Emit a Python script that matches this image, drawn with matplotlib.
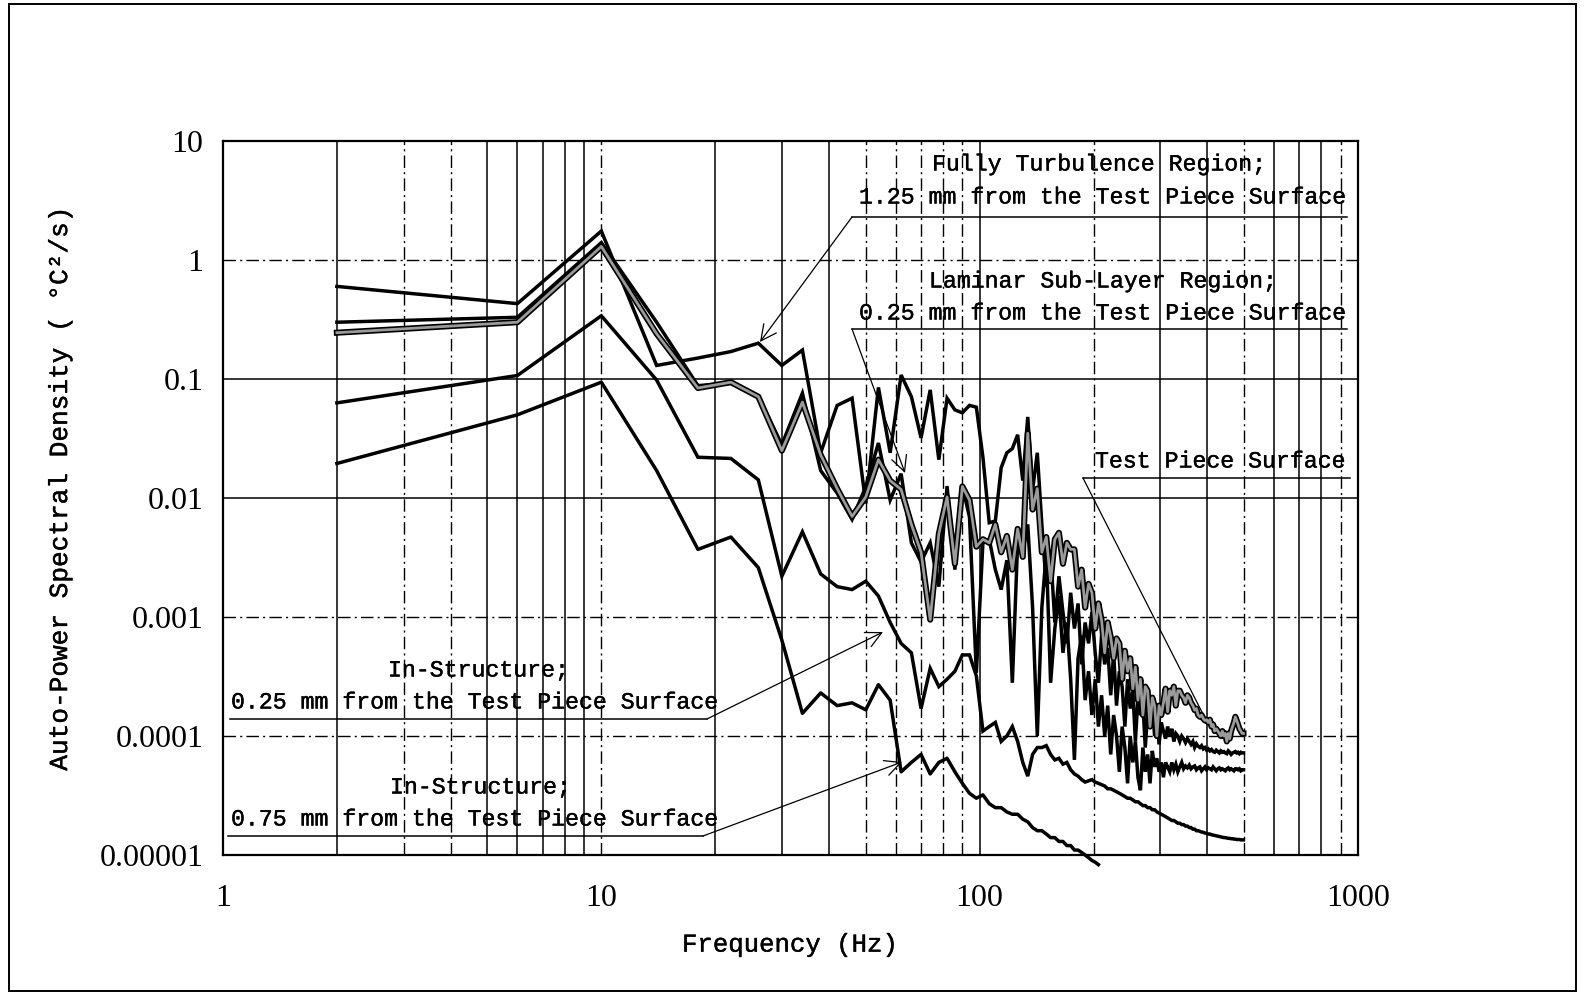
import numpy as np
import matplotlib
matplotlib.use('Agg')
import matplotlib.pyplot as plt
import matplotlib.patheffects as pe
from matplotlib.patches import Rectangle
from matplotlib.lines import Line2D

# ---------------- data (frequency bins every 4 Hz starting at 2 Hz) ----------------
fully_turbulence_125 = [
    0.60, 0.43, 1.75, 0.13, 0.15, 0.17, 0.20, 0.13, 0.175, 0.024,
    0.060, 0.069, 0.009, 0.085, 0.024, 0.108, 0.071, 0.032, 0.081, 0.021,
    0.069, 0.055, 0.052, 0.060, 0.058, 0.022, 0.0062, 0.0064, 0.018, 0.024,
    0.026, 0.034, 0.014, 0.048, 0.0116, 0.024, 0.006, 0.0018, 0.0035, 0.0009,
    0.0022, 0.0011, 0.0006, 0.0016, 0.0008, 0.0013, 0.0004, 0.0009, 0.0006, 0.0011,
    5.0e-4, 2.8e-4, 7.0e-4, 4.0e-4, 5.5e-4, 2.2e-4, 5.0e-4, 1.8e-4, 3.5e-4, 2.6e-4,
    1.2e-4, 3.0e-4, 1.7e-4, 2.4e-4, 9.0e-5, 2.1e-4, 1.5e-4, 1.9e-4, 8.0e-5, 1.6e-4,
    1.2e-4, 1.8e-4, 1.0e-4, 1.4e-4, 8.5e-5, 1.3e-4, 1.1e-4, 9.5e-5, 1.2e-4, 1.0e-4,
    1.15e-4, 9.0e-5, 1.05e-4, 1.0e-4, 9.0e-5, 1.0e-4, 9.5e-5, 8.8e-5, 9.5e-5, 9.0e-5,
    8.5e-5, 9.0e-5, 8.0e-5, 8.6e-5, 8.2e-5, 8.0e-5, 8.3e-5, 7.8e-5, 8.0e-5, 7.6e-5,
    7.8e-5, 7.5e-5, 7.7e-5, 7.4e-5, 7.3e-5, 7.6e-5, 7.4e-5, 7.2e-5, 7.5e-5, 7.3e-5,
    7.4e-5, 7.2e-5, 7.1e-5, 7.5e-5, 7.3e-5, 7.0e-5, 7.2e-5, 7.3e-5, 7.4e-5, 7.2e-5,
    7.3e-5, 7.1e-5, 7.3e-5, 7.2e-5, 7.2e-5]

laminar_025 = [
    0.30, 0.33, 1.40, 0.30, 0.088, 0.092, 0.072, 0.028, 0.076, 0.017,
    0.011, 0.0066, 0.0125, 0.029, 0.0096, 0.016, 0.0042, 0.0029, 0.0042, 0.0018,
    0.0126, 0.0025, 0.0126, 0.0069, 0.00034, 0.0042, 0.0045, 0.0025, 0.0017, 0.0030,
    0.00028, 0.0042, 0.0035, 0.0060, 0.0012, 0.0001, 0.0012, 0.0035, 0.00028, 0.0008,
    0.0015, 0.0005, 0.0009, 0.0003, 6.3e-5, 4.5e-4, 7.0e-4, 2.0e-4, 3.5e-4, 1.5e-4,
    3.0e-4, 1.2e-4, 2.2e-4, 1.0e-4, 1.8e-4, 7.0e-5, 1.5e-4, 1.0e-4, 5.0e-5, 1.2e-4,
    8.0e-5, 4.0e-5, 1.0e-4, 6.0e-5, 9.0e-5, 4.5e-5, 3.5e-5, 8.0e-5, 5.0e-5, 7.0e-5,
    4.0e-5, 7.5e-5, 5.5e-5, 6.5e-5, 5.0e-5, 6.0e-5, 4.5e-5, 6.0e-5, 5.5e-5, 5.0e-5,
    6.0e-5, 5.2e-5, 5.8e-5, 5.0e-5, 5.5e-5, 6.0e-5, 5.3e-5, 5.6e-5, 5.4e-5, 5.7e-5,
    5.3e-5, 5.5e-5, 5.6e-5, 5.2e-5, 5.4e-5, 5.5e-5, 5.1e-5, 5.3e-5, 5.5e-5, 5.2e-5,
    5.4e-5, 5.3e-5, 5.2e-5, 5.5e-5, 5.3e-5, 5.1e-5, 5.3e-5, 5.4e-5, 5.2e-5, 5.3e-5,
    5.2e-5, 5.1e-5, 5.3e-5, 5.4e-5, 5.2e-5, 5.3e-5, 5.2e-5, 5.1e-5, 5.3e-5, 5.3e-5,
    5.2e-5, 5.3e-5, 5.1e-5, 5.2e-5, 5.2e-5]

test_piece_surface = [
    0.245, 0.30, 1.30, 0.24, 0.084, 0.094, 0.071, 0.025, 0.064, 0.023,
    0.012, 0.007, 0.0102, 0.021, 0.014, 0.0118, 0.006, 0.0035, 0.00095, 0.005,
    0.0102, 0.0028, 0.0125, 0.0096, 0.0039, 0.0045, 0.0042, 0.006, 0.0035, 0.0048,
    0.0025, 0.0055, 0.0032, 0.035, 0.008, 0.012, 0.0035, 0.0047, 0.002, 0.0045,
    0.0051, 0.0028, 0.0042, 0.0037, 0.0037, 0.0018, 0.0025, 0.0012, 0.0019, 0.0016,
    8.0e-4, 1.3e-3, 9.4e-4, 5.0e-4, 9.0e-4, 6.8e-4, 4.5e-4, 6.6e-4, 6.0e-4, 3.0e-4,
    5.2e-4, 3.5e-4, 4.5e-4, 2.5e-4, 3.8e-4, 2.0e-4, 3.0e-4, 1.5e-4, 2.6e-4, 2.4e-4,
    1.2e-4, 2.1e-4, 1.8e-4, 1.0e-4, 1.8e-4, 1.5e-4, 1.9e-4, 2.5e-4, 1.6e-4, 2.4e-4,
    2.2e-4, 2.6e-4, 1.8e-4, 2.4e-4, 2.4e-4, 2.2e-4, 2.1e-4, 1.9e-4, 2.2e-4, 2.1e-4,
    1.9e-4, 1.8e-4, 1.65e-4, 1.7e-4, 1.5e-4, 1.45e-4, 1.5e-4, 1.4e-4, 1.35e-4, 1.37e-4,
    1.3e-4, 1.37e-4, 1.2e-4, 1.25e-4, 1.1e-4, 1.15e-4, 1.1e-4, 1.05e-4, 1.0e-4, 1.1e-4,
    1.0e-4, 1.05e-4, 9.0e-5, 1.05e-4, 9.5e-5, 1.1e-4, 1.2e-4, 1.3e-4, 1.45e-4, 1.35e-4,
    1.25e-4, 1.15e-4, 1.1e-4, 1.05e-4, 1.05e-4]

in_structure_025 = [
    0.063, 0.107, 0.34, 0.098, 0.022, 0.0215, 0.0142, 0.0022, 0.0052, 0.0023,
    0.0018, 0.0017, 0.0020, 0.0015, 0.0009, 0.0006, 0.0005, 0.00017, 0.00037, 0.00026,
    3.0e-4, 3.5e-4, 4.8e-4, 4.8e-4, 3.2e-4, 1.1e-4, 1.2e-4, 1.3e-4, 9.0e-5, 1.0e-4,
    1.2e-4, 9.0e-5, 6.0e-5, 4.6e-5, 7.0e-5, 8.0e-5, 8.0e-5, 8.3e-5, 7.0e-5, 6.3e-5,
    6.5e-5, 5.8e-5, 6.0e-5, 5.2e-5, 4.8e-5, 4.6e-5, 4.3e-5, 4.1e-5, 4.2e-5, 4.3e-5,
    4.1e-5, 4.0e-5, 3.9e-5, 3.8e-5, 3.6e-5, 3.6e-5, 3.5e-5, 3.4e-5, 3.3e-5, 3.2e-5,
    3.1e-5, 3.0e-5, 3.0e-5, 2.9e-5, 2.8e-5, 2.8e-5, 2.7e-5, 2.6e-5, 2.6e-5, 2.5e-5,
    2.5e-5, 2.4e-5, 2.4e-5, 2.3e-5, 2.25e-5, 2.2e-5, 2.15e-5, 2.1e-5, 2.05e-5, 2.0e-5,
    1.95e-5, 1.95e-5, 1.9e-5, 1.85e-5, 1.85e-5, 1.8e-5, 1.8e-5, 1.75e-5, 1.75e-5, 1.7e-5,
    1.7e-5, 1.65e-5, 1.65e-5, 1.6e-5, 1.6e-5, 1.58e-5, 1.56e-5, 1.55e-5, 1.53e-5, 1.52e-5,
    1.5e-5, 1.5e-5, 1.48e-5, 1.47e-5, 1.46e-5, 1.45e-5, 1.44e-5, 1.43e-5, 1.42e-5, 1.41e-5,
    1.4e-5, 1.4e-5, 1.39e-5, 1.38e-5, 1.38e-5, 1.37e-5, 1.37e-5, 1.36e-5, 1.36e-5, 1.35e-5,
    1.35e-5, 1.35e-5, 1.34e-5, 1.34e-5, 1.34e-5]

in_structure_075 = [
    0.0195, 0.05, 0.094, 0.017, 0.0037, 0.0047, 0.0026, 0.00064, 0.000155, 0.00023,
    1.8e-4, 1.9e-4, 1.66e-4, 2.7e-4, 2.0e-4, 5.0e-5, 6.0e-5, 7.0e-5, 4.8e-5, 6.0e-5,
    6.5e-5, 5.0e-5, 4.0e-5, 3.3e-5, 3.0e-5, 3.2e-5, 2.7e-5, 2.5e-5, 2.5e-5, 2.3e-5,
    2.2e-5, 2.2e-5, 2.0e-5, 1.9e-5, 1.7e-5, 1.6e-5, 1.6e-5, 1.5e-5, 1.4e-5, 1.4e-5,
    1.3e-5, 1.3e-5, 1.2e-5, 1.2e-5, 1.1e-5, 1.1e-5, 1.05e-5, 1.0e-5, 9.5e-6, 9.0e-6,
    8.7e-6, 8.3e-6]

f_start, f_step = 2.0, 4.0

x_tick_vals = [1, 10, 100, 1000]
x_tick_labels = ['1', '10', '100', '1000']
y_tick_vals = [1e-5, 1e-4, 1e-3, 1e-2, 1e-1, 1, 10]
y_tick_labels = ['0.00001', '0.0001', '0.001', '0.01', '0.1', '1', '10']

grid_x_solid = [2, 5, 6, 7, 8, 9, 20, 30, 40, 100, 300, 400, 600, 700, 800]
grid_x_dashdot = [3, 4, 10, 50, 60, 70, 80, 90, 200, 500, 900]
grid_y_solid = [0.1, 0.01]
grid_y_dashdot = [1, 1e-3, 1e-4]

# ---------------- figure ----------------
W, H = 1586, 994
fig = plt.figure(figsize=(W / 100, H / 100), dpi=100)
fig.patch.set_facecolor('white')
AX_L, AX_R, AX_T, AX_B = 223, 1358, 141, 855
ax = fig.add_axes([AX_L / W, 1 - AX_B / H, (AX_R - AX_L) / W, (AX_B - AX_T) / H])
ax.set_xscale('log')
ax.set_yscale('log')
ax.set_xlim(1, 1000)
ax.set_ylim(1e-5, 10)

dd = (0, (9, 3, 1.5, 3))
for xv in grid_x_solid:
    ax.axvline(xv, color='black', lw=1.1, zorder=1)
for xv in grid_x_dashdot:
    ax.axvline(xv, color='black', lw=1.0, ls=dd, zorder=1)
for yv in grid_y_solid:
    ax.axhline(yv, color='black', lw=1.1, zorder=1)
for yv in grid_y_dashdot:
    ax.axhline(yv, color='black', lw=1.0, ls=dd, zorder=1)

def freqs(vals):
    return f_start + f_step * np.arange(len(vals))

black_series = [fully_turbulence_125, laminar_025, in_structure_025]
for s in black_series:
    ax.plot(freqs(s), s, color='black', lw=2.5, zorder=3, solid_joinstyle='miter')
ax.plot(freqs(test_piece_surface), test_piece_surface, color='#9a9a9a', lw=2.0, zorder=3.5,
        path_effects=[pe.Stroke(linewidth=4.4, foreground='black'), pe.Normal()])
ax.plot(freqs(in_structure_075), in_structure_075, color='black', lw=2.5, zorder=3,
        clip_on=False)

ax.xaxis.set_minor_locator(matplotlib.ticker.NullLocator())
ax.yaxis.set_minor_locator(matplotlib.ticker.NullLocator())
ax.set_xticks(x_tick_vals)
ax.set_xticklabels(x_tick_labels)
ax.set_yticks(y_tick_vals)
ax.set_yticklabels(y_tick_labels)
ax.tick_params(axis='both', length=0)
ax.tick_params(axis='x', pad=21)
ax.tick_params(axis='y', pad=14)
for lab in ax.get_xticklabels() + ax.get_yticklabels():
    lab.set_fontfamily('Liberation Serif')
    lab.set_fontsize(23)
for sp in ax.spines.values():
    sp.set_linewidth(1.6)
    sp.set_zorder(5)

MONO = 'Liberation Mono'
heavy = [pe.withStroke(linewidth=0.3, foreground='black')]
ax.set_xlabel('Frequency (Hz)', fontfamily=MONO, fontsize=18.5, labelpad=14)
ax.set_ylabel('Auto-Power Spectral Density ( \u00b0C\u00b2/s)', fontfamily=MONO,
              fontsize=18.8)
ax.xaxis.label.set_path_effects(heavy)
ax.yaxis.label.set_path_effects(heavy)
ax.yaxis.set_label_coords(-0.133, 0.512)

def axc(x, y):
    return ((x - AX_L) / (AX_R - AX_L), (AX_B - y) / (AX_B - AX_T))

def label(x, y, s):
    ax.text(*axc(x, y), s, transform=ax.transAxes, fontfamily=MONO, fontsize=16.7,
            ha='left', va='center', zorder=0.5, clip_on=False, path_effects=heavy)

def uline(x0, x1, y):
    (a0, b0), (a1, _) = axc(x0, y), axc(x1, y)
    ax.add_line(Line2D([a0, a1], [b0, b0], transform=ax.transAxes, color='black',
                       lw=1.1, zorder=2, clip_on=False))

def arrow(x0, y0, x1, y1, head=True):
    ax.annotate('', xy=axc(x1, y1), xytext=axc(x0, y0), xycoords='axes fraction',
                textcoords='axes fraction',
                arrowprops=dict(arrowstyle='->' if head else '-', lw=0.9, color='black',
                                shrinkA=0, shrinkB=0, mutation_scale=28), zorder=2)

label(932, 164, 'Fully Turbulence Region;')
label(859, 197, '1.25 mm from the Test Piece Surface')
uline(852, 1347, 217)
arrow(852, 217, 760, 342)

label(929, 281, 'Laminar Sub-Layer Region;')
label(859, 313, '0.25 mm from the Test Piece Surface')
uline(852, 1347, 329)
arrow(852, 329, 905, 473)

label(1095, 461, 'Test Piece Surface')
uline(1083, 1350, 478)
arrow(1083, 478, 1208, 724, head=False)

label(388, 670, 'In-Structure;')
label(231, 702, '0.25 mm from the Test Piece Surface')
uline(230, 707, 719)
arrow(707, 719, 883, 632)

label(390, 787, 'In-Structure;')
label(231, 819, '0.75 mm from the Test Piece Surface')
uline(228, 703, 836)
arrow(703, 836, 902, 762)

fig.add_artist(Rectangle((9 / W, 1 - 991 / H), (1576 - 9) / W, (991 - 4) / H,
                         transform=fig.transFigure, fill=False, lw=1.4, ec='black'))

fig.savefig('out.png', dpi=100, facecolor='white')
